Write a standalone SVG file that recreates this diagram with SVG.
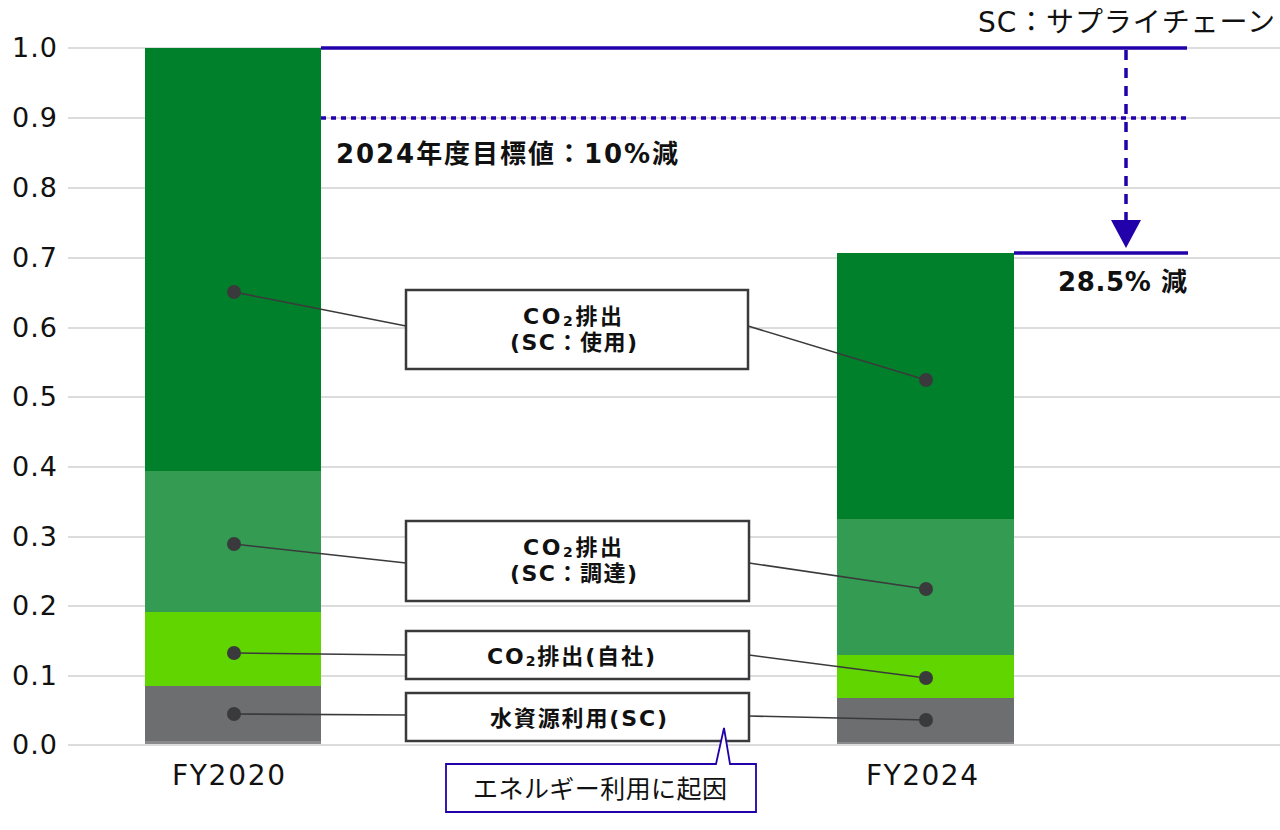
<svg xmlns="http://www.w3.org/2000/svg" width="1280" height="830" viewBox="0 0 1280 830">
<style>
.grid{stroke:#dcdcdc;stroke-width:2}
.ax{font-family:"DejaVu Sans","Noto Sans CJK JP",sans-serif;font-size:27px;fill:#111;text-anchor:end}
.cat{font-family:"DejaVu Sans","Noto Sans CJK JP",sans-serif;font-size:28px;fill:#111}
.lbl{font-family:"DejaVu Sans","Noto Sans CJK JP",sans-serif;font-size:22px;font-weight:bold;fill:#111}
.big{font-family:"DejaVu Sans","Noto Sans CJK JP",sans-serif;font-size:26px;font-weight:bold;fill:#111}
.jp{font-family:"Noto Sans CJK JP",sans-serif;font-size:27px;fill:#111}
.box{fill:#fff;stroke:#3a3a3c;stroke-width:2.5}
.conn{stroke:#3a3a3c;stroke-width:1.6;fill:none}
.dot{fill:#3a3a3c}
.blue{stroke:#2200aa;stroke-width:3.5;fill:none}
.g1{fill:#00802a}.g2{fill:#339c52}.g3{fill:#60d500}.g4{fill:#6d6e70}
</style>
<rect width="1280" height="830" fill="#fff"/>
<g id="grid">
<line class="grid" x1="68" y1="48" x2="1280" y2="48"/>
<line class="grid" x1="68" y1="118" x2="1280" y2="118"/>
<line class="grid" x1="68" y1="188" x2="1280" y2="188"/>
<line class="grid" x1="68" y1="258" x2="1280" y2="258"/>
<line class="grid" x1="68" y1="328" x2="1280" y2="328"/>
<line class="grid" x1="68" y1="397" x2="1280" y2="397"/>
<line class="grid" x1="68" y1="467" x2="1280" y2="467"/>
<line class="grid" x1="68" y1="537" x2="1280" y2="537"/>
<line class="grid" x1="68" y1="606" x2="1280" y2="606"/>
<line class="grid" x1="68" y1="676" x2="1280" y2="676"/>
<line class="grid" x1="68" y1="745" x2="1280" y2="745"/>
</g>
<g id="axis-labels">
<text class="ax" x="57" y="57" textLength="45">1.0</text>
<text class="ax" x="57" y="127" textLength="45">0.9</text>
<text class="ax" x="57" y="197" textLength="45">0.8</text>
<text class="ax" x="57" y="267" textLength="45">0.7</text>
<text class="ax" x="57" y="337" textLength="45">0.6</text>
<text class="ax" x="57" y="406" textLength="45">0.5</text>
<text class="ax" x="57" y="476" textLength="45">0.4</text>
<text class="ax" x="57" y="546" textLength="45">0.3</text>
<text class="ax" x="57" y="615" textLength="45">0.2</text>
<text class="ax" x="57" y="685" textLength="45">0.1</text>
<text class="ax" x="57" y="754" textLength="45">0.0</text>
<text class="cat" x="172" y="785" textLength="113">FY2020</text>
<text class="cat" x="866" y="785" textLength="112">FY2024</text>
</g>
<g id="bar-fy2020">
<rect class="g1" x="145" y="48" width="176" height="423"/>
<rect class="g2" x="145" y="471" width="176" height="141"/>
<rect class="g3" x="145" y="612" width="176" height="74"/>
<rect class="g4" x="145" y="686" width="176" height="56"/>
<rect fill="#8a8a8c" x="145" y="741" width="176" height="3"/>
</g>
<g id="bar-fy2024">
<rect class="g1" x="837" y="253" width="177" height="266"/>
<rect class="g2" x="837" y="519" width="177" height="136"/>
<rect class="g3" x="837" y="655" width="177" height="43"/>
<rect class="g4" x="837" y="698" width="177" height="45"/>
<rect fill="#8a8a8c" x="837" y="742" width="177" height="2"/>
</g>
<g id="target-lines">
<line class="blue" x1="321" y1="48" x2="1187" y2="48"/>
<line class="blue" x1="321" y1="118" x2="1187" y2="118" stroke-dasharray="5,5"/>
<line class="blue" x1="1126" y1="50" x2="1126" y2="222" stroke-dasharray="10,8"/>
<polygon points="1111,220 1141,220 1126,248" fill="#2200aa"/>
<line class="blue" x1="1014" y1="253" x2="1188" y2="253"/>
</g>
<g id="connectors">
<polyline class="conn" points="234,292 406,326"/>
<polyline class="conn" points="748,326 926,380"/>
<polyline class="conn" points="234,544 406,563"/>
<polyline class="conn" points="749,563 926,589"/>
<polyline class="conn" points="234,653 406,655"/>
<polyline class="conn" points="749,655 926,678"/>
<polyline class="conn" points="234,714 406,715"/>
<polyline class="conn" points="749,716 926,720"/>
<circle class="dot" cx="234" cy="292" r="7"/>
<circle class="dot" cx="926" cy="380" r="7"/>
<circle class="dot" cx="234" cy="544" r="7"/>
<circle class="dot" cx="926" cy="589" r="7"/>
<circle class="dot" cx="234" cy="653" r="7"/>
<circle class="dot" cx="926" cy="678" r="7"/>
<circle class="dot" cx="234" cy="714" r="7"/>
<circle class="dot" cx="926" cy="720" r="7"/>
</g>
<g id="label-use">
<rect class="box" x="406" y="290" width="342" height="79"/>
<text class="lbl" x="523" y="324" textLength="99">CO<tspan font-size="14" dy="2">2</tspan><tspan dy="-2">排出</tspan></text>
<text class="lbl" x="510" y="350" textLength="127">(SC：使用)</text>
</g>
<g id="label-procure">
<rect class="box" x="406" y="521" width="343" height="80"/>
<text class="lbl" x="523" y="555" textLength="99">CO<tspan font-size="14" dy="2">2</tspan><tspan dy="-2">排出</tspan></text>
<text class="lbl" x="510" y="581" textLength="127">(SC：調達)</text>
</g>
<g id="label-own">
<rect class="box" x="406" y="631" width="343" height="48"/>
<text class="lbl" x="487" y="664" textLength="168">CO<tspan font-size="14" dy="2">2</tspan><tspan dy="-2">排出(自社)</tspan></text>
</g>
<g id="label-water">
<rect class="box" x="406" y="693" width="343" height="48"/>
<text class="lbl" x="490" y="726" textLength="177">水資源利用(SC)</text>
</g>
<g id="callout">
<path d="M446,764 H716 L724,728 L730,764 H756 V812 H446 Z" fill="#fff" stroke="#2200aa" stroke-width="1.8"/>
<text class="jp" x="473" y="798" style="font-size:25px" textLength="254">エネルギー利用に起因</text>
</g>
<g id="annotations">
<text class="cat" x="978" y="32" textLength="297">SC：サプライチェーン</text>
<text class="big" x="336" y="163" textLength="342">2024年度目標値：10%減</text>
<text class="big" x="1058" y="291" textLength="129">28.5% 減</text>
</g>
</svg>
